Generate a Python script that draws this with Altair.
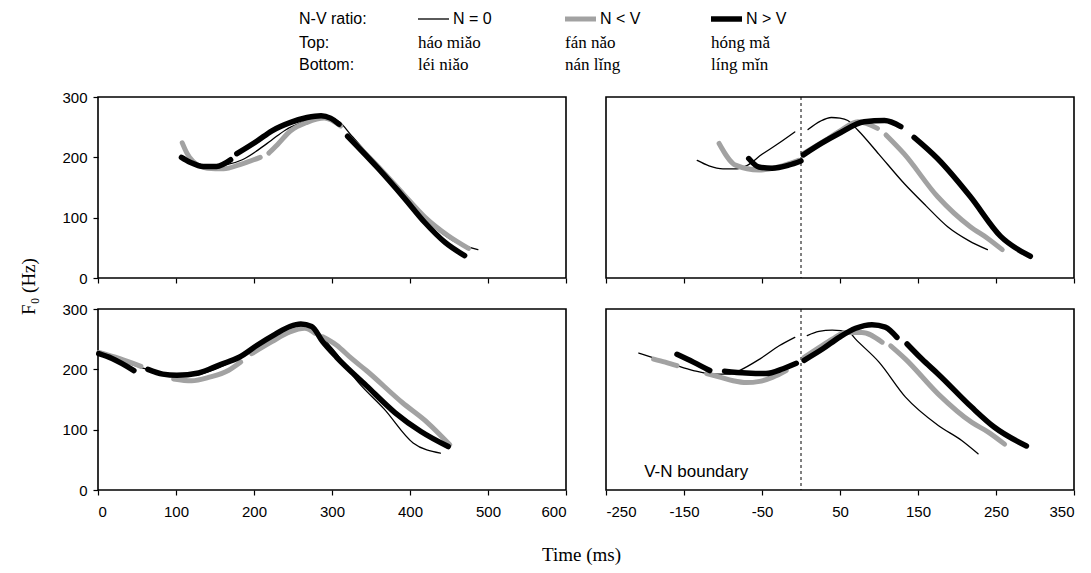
import altair as alt
import pandas as pd

# ---------------- data ----------------
SERIES = ["N = 0", "N < V", "N > V"]
TOP_WORDS = ["háo miǎo", "fán nǎo", "hóng mǎ"]
BOTTOM_WORDS = ["léi niǎo", "nán lǐng", "líng mǐn"]

LEFT_TICKS = [0, 100, 200, 300, 400, 500, 600]
RIGHT_TICKS = [-250, -150, -50, 50, 150, 250, 350]
Y_TICKS = [0, 100, 200, 300]
BOUNDARY_MS = [0]

# each curve: list of segments, each segment list of (ms, Hz)
TL_N0 = [[(110, 197), (125, 190), (145, 186), (165, 188), (185, 196), (205, 212), (222, 228),
          (240, 245), (260, 257), (280, 265), (295, 266), (310, 258), (325, 236), (360, 185),
          (395, 135), (425, 92), (455, 62), (487, 47)]]
TL_NLV = [[(108, 224), (114, 207), (122, 193), (140, 182), (161, 181), (182, 188), (208, 200)],
          [(219, 207), (230, 221), (247, 244), (268, 258), (290, 265), (311, 252)],
          [(322, 233), (359, 185), (393, 137), (419, 101), (449, 70), (475, 49)]]
TL_NGV = [[(107, 200), (118, 192), (135, 185), (152, 185), (170, 196)],
          [(178, 206), (204, 227), (223, 244), (247, 258), (268, 266), (286, 269), (298, 265), (309, 255)],
          [(320, 235), (359, 182), (393, 132), (419, 92), (445, 59), (470, 37)]]

TR_N0 = [[(-133, 195), (-118, 186), (-100, 181), (-82, 181), (-70, 186), (-50, 205), (-30, 222), (-8, 242)],
         [(9, 246), (25, 260), (39, 266), (50, 265), (60, 261), (73, 245), (100, 205), (132, 157),
          (160, 120), (188, 85), (215, 62), (239, 47)]]
TR_NLV = [[(-105, 223), (-84, 187), (-54, 179), (-29, 184), (-3, 195)],
          [(3, 206), (31, 228), (48, 242), (73, 259), (98, 248)],
          [(109, 237), (132, 206), (175, 135), (217, 85), (239, 66), (258, 47)]]
TR_NGV = [[(-67, 198), (-54, 184), (-37, 182), (-16, 187), (0, 194)],
          [(3, 204), (26, 223), (48, 239), (81, 259), (107, 261), (128, 251)],
          [(145, 233), (175, 198), (217, 135), (256, 69), (294, 36)]]

BL_N0 = [[(2, 226), (30, 214), (60, 201), (90, 192), (120, 190), (150, 200), (180, 219), (210, 243),
          (240, 265), (258, 272), (275, 268), (300, 235), (334, 178), (367, 134), (404, 78), (439, 61)]]
BL_NLV = [[(1, 228), (27, 218), (55, 205)],
          [(97, 184), (120, 181), (143, 187), (167, 198), (183, 212)],
          [(197, 226), (223, 246), (246, 262), (265, 268), (278, 260)],
          [(288, 254), (306, 240), (325, 218), (344, 198), (390, 145), (423, 111), (451, 75)]]
BL_NGV = [[(1, 226), (18, 218), (46, 198)],
          [(64, 200), (83, 192), (101, 190), (129, 194), (157, 208), (181, 220), (204, 240), (227, 258),
           (246, 271), (260, 275), (274, 271), (288, 246), (306, 220), (344, 173), (381, 128), (414, 97), (449, 72)]]

BR_N0 = [[(-208, 227), (-189, 219), (-163, 208), (-138, 198), (-112, 192), (-91, 192), (-79, 198),
          (-53, 217), (-28, 239), (-8, 253)],
         [(8, 256), (23, 263), (40, 265), (62, 261), (70, 250), (100, 212), (134, 154), (176, 107),
          (206, 82), (227, 60)]]
BR_NLV = [[(-189, 217), (-174, 212), (-159, 206)],
          [(-121, 193), (-104, 187), (-87, 181), (-70, 178), (-53, 180), (-36, 187), (-19, 198)],
          [(4, 220), (23, 236), (40, 250), (57, 261), (78, 261), (104, 245)],
          [(115, 239), (134, 217), (176, 159), (219, 112), (240, 96), (261, 76)]]
BR_NGV = [[(-159, 225), (-138, 212), (-117, 198)],
          [(-98, 197), (-70, 194), (-45, 193), (-23, 201), (-6, 210)],
          [(4, 215), (28, 234), (49, 253), (70, 268), (91, 274), (108, 270), (123, 253)],
          [(136, 242), (155, 217), (176, 192), (219, 137), (248, 104), (289, 73)]]

PANELS = {
    "TL": [TL_N0, TL_NLV, TL_NGV],
    "TR": [TR_N0, TR_NLV, TR_NGV],
    "BL": [BL_N0, BL_NLV, BL_NGV],
    "BR": [BR_N0, BR_NLV, BR_NGV],
}

# ---------------- styling ----------------
COLORS = ["#000000", "#a2a2a2", "#000000"]
WIDTHS = [1.3, 5.0, 5.5]
W, H = 468, 181
SANS = "Liberation Sans"
SERIF = "Liberation Serif"


def panel_df(key):
    rows = []
    for s, curve in zip(SERIES, PANELS[key]):
        for si, seg in enumerate(curve):
            for i, (ms, hz) in enumerate(seg):
                rows.append({"series": s, "seg": f"{s}-{si}", "ms": ms, "hz": hz, "ord": i})
    return pd.DataFrame(rows)


def make_panel(key, left, top, extra=None):
    df = panel_df(key)
    xdom = [0, 600] if left else [-250, 350]
    xticks = LEFT_TICKS if left else RIGHT_TICKS
    xaxis_kw = dict(values=xticks, tickSize=5, tickColor="black", tickWidth=1.2, domain=False,
                    grid=False, labels=not top, labelFont=SANS, labelFontSize=15,
                    labelColor="black", labelPadding=9, labelExpr="'' + datum.value")
    if key == "BL":
        xaxis_kw.update(title="Time (ms)", titleFont=SERIF, titleFontSize=19, titleFontWeight="normal",
                        titleColor="black", titleX=483, titleY=64, titleAlign="center",
                        titleBaseline="middle")
    else:
        xaxis_kw.update(title=None)
    x = alt.X("ms:Q", scale=alt.Scale(domain=xdom, nice=False, zero=False), axis=alt.Axis(**xaxis_kw))
    if left:
        yaxis_kw = dict(values=Y_TICKS, tickSize=5, tickColor="black", tickWidth=1.2, domain=False,
                        grid=False, labelFont=SANS, labelFontSize=15, labelColor="black",
                        labelPadding=6)
        if key == "TL":
            yaxis_kw.update(title="F₀ (Hz)", titleFont=SERIF, titleFontSize=19,
                            titleFontWeight="normal", titleColor="black", titleX=-70, titleY=189,
                            titleAlign="center", titleBaseline="middle", titleAngle=270)
        else:
            yaxis_kw.update(title=None)
        yaxis = alt.Axis(**yaxis_kw)
    else:
        yaxis = None
    y = alt.Y("hz:Q", scale=alt.Scale(domain=[0, 300], nice=False, zero=False), axis=yaxis)

    layers = []
    for s, c, w in zip(SERIES, COLORS, WIDTHS):
        layers.append(
            alt.Chart(df[df.series == s]).mark_line(
                color=c, strokeWidth=w, strokeCap="round", strokeJoin="round", interpolate="monotone"
            ).encode(x=x, y=y, detail="seg:N", order="ord:Q")
        )
    if not left:
        layers.append(
            alt.Chart(pd.DataFrame({"b": BOUNDARY_MS})).mark_rule(
                color="black", strokeWidth=1, strokeDash=[3, 3]
            ).encode(x=alt.X("b:Q", scale=alt.Scale(domain=xdom, nice=False, zero=False)))
        )
    if extra:
        layers.extend(extra)
    return alt.layer(*layers).properties(width=W, height=H)


def txt(s, px, py, font=SANS, size=16, align="left"):
    return alt.Chart(pd.DataFrame({"t": [s]})).mark_text(
        font=font, fontSize=size, align=align, baseline="middle", color="black"
    ).encode(x=alt.value(px), y=alt.value(py), text="t:N")


def sample(px0, px1, py, color, width):
    return alt.Chart(pd.DataFrame({"t": [0]})).mark_rule(
        color=color, strokeWidth=width, strokeCap="butt"
    ).encode(x=alt.value(px0), x2=alt.value(px1), y=alt.value(py))


# legend (pixel offsets relative to the top-left plot area)
ROW_Y = [-78, -54, -32]
COL_X = [320, 467, 613]
legend_layers = [
    txt("N-V ratio:", 201, ROW_Y[0]),
    txt("Top:", 201, ROW_Y[1]),
    txt("Bottom:", 201, ROW_Y[2]),
]
for i, s in enumerate(SERIES):
    legend_layers.append(sample(COL_X[i], COL_X[i] + 31, ROW_Y[0], COLORS[i], WIDTHS[i]))
    legend_layers.append(txt(s, COL_X[i] + 35, ROW_Y[0]))
    legend_layers.append(txt(TOP_WORDS[i], COL_X[i], ROW_Y[1], font=SERIF, size=17))
    legend_layers.append(txt(BOTTOM_WORDS[i], COL_X[i], ROW_Y[2], font=SERIF, size=17))

vn_text = alt.Chart(pd.DataFrame({"t": ["V-N boundary"], "ms": [-201], "hz": [30]})).mark_text(
    font=SANS, fontSize=17, align="left", baseline="middle", color="black"
).encode(x=alt.X("ms:Q", scale=alt.Scale(domain=[-250, 350], nice=False, zero=False)),
         y=alt.Y("hz:Q", scale=alt.Scale(domain=[0, 300], nice=False, zero=False)),
         text="t:N")

tl = make_panel("TL", left=True, top=True, extra=legend_layers)
tr = make_panel("TR", left=False, top=True)
bl = make_panel("BL", left=True, top=False)
br = make_panel("BR", left=False, top=False, extra=[vn_text])

chart = alt.concat(
    tl, tr, bl, br, columns=2, spacing={"row": 31, "column": 40}, bounds="flush"
).properties(
    padding={"left": 10, "top": 2, "right": 5, "bottom": 5},
    background="white",
).configure_view(
    stroke="black", strokeWidth=1.6, fill="white"
)

chart.save("out.html", embed_options={"renderer": "svg", "actions": False})
